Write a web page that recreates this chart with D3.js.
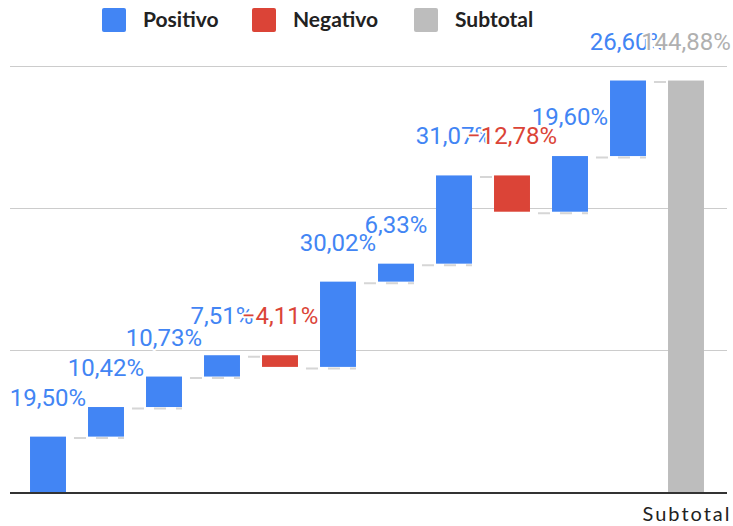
<!DOCTYPE html>
<html>
<head>
<meta charset="utf-8">
<script src="https://cdn.jsdelivr.net/npm/d3@7"></script>
<style>
  html, body { margin: 0; padding: 0; background: #fff; }
  svg { display: block; }
</style>
</head>
<body>
<svg id="chart" width="733" height="526"></svg>
<script>
// ---- data ----
const tickLabels = ["", "", "", "", "", "", "", "", "", "", "", "Subtotal"];
const values = [19.50, 10.42, 10.73, 7.51, -4.11, 30.02, 6.33, 31.07, -12.78, 19.60, 26.60];
const subtotalValue = 144.88;
const yTicks = [0, 50, 100, 150];
const legendLabels = ["Positivo", "Negativo", "Subtotal"];
const colors = { pos: "#4285F4", neg: "#DB4437", sub: "#BDBDBD" };

// ---- build waterfall records ----
const rows = [];
let running = 0;
values.forEach((v, i) => {
  const start = running;
  running += v;
  rows.push({ i, v, start, end: running, type: v >= 0 ? "pos" : "neg" });
});
rows.push({ i: values.length, v: subtotalValue, start: 0, end: subtotalValue, type: "sub" });

const svg = d3.select("#chart");

const x = d3.scaleBand()
  .domain(d3.range(rows.length))
  .range([19, 715])
  .paddingInner(0.38)
  .paddingOuter(0.19);

const y = d3.scaleLinear().domain([0, 150]).range([492, 66]);

// gridlines
svg.append("g")
  .selectAll("line")
  .data(yTicks.filter(t => t !== 0))
  .join("line")
  .attr("x1", 10).attr("x2", 727)
  .attr("y1", d => Math.round(y(d)) + 0.5).attr("y2", d => Math.round(y(d)) + 0.5)
  .attr("stroke", "#cccccc").attr("stroke-width", 1);

// connectors
const conn = svg.append("g");
rows.slice(0, -1).forEach((r, k) => {
  const next = rows[k + 1];
  const yy = y(r.end) + 1.5;
  conn.append("line")
    .attr("x1", x(r.i) + x.bandwidth() + 8)
    .attr("x2", x(next.i) + x.bandwidth())
    .attr("y1", yy).attr("y2", yy)
    .attr("stroke", "#d6d6d6").attr("stroke-width", 2)
    .attr("stroke-dasharray", "12,10");
});

// bars
svg.append("g")
  .selectAll("rect")
  .data(rows)
  .join("rect")
  .attr("x", d => x(d.i))
  .attr("width", x.bandwidth())
  .attr("y", d => y(Math.max(d.start, d.end)))
  .attr("height", d => Math.abs(y(d.start) - y(d.end)))
  .attr("fill", d => colors[d.type]);

// baseline
svg.append("line")
  .attr("x1", 10).attr("x2", 727)
  .attr("y1", y(0) + 1).attr("y2", y(0) + 1)
  .attr("stroke", "#333333").attr("stroke-width", 2);

// x axis label(s)
const xAxis = d3.axisBottom(x).tickSize(0).tickFormat(i => tickLabels[i]);
const gx = svg.append("g").attr("transform", `translate(0, ${y(0)})`).call(xAxis);
gx.select(".domain").remove();
gx.selectAll("text")
  .attr("dy", null)
  .attr("y", 29)
  .attr("dx", "1px")
  .style("font-family", "Lato, sans-serif")
  .style("font-size", "20px")
  .style("letter-spacing", "2px")
  .attr("fill", "#222");

// value labels
const fmt = d3.format(".2f");
svg.append("g")
  .selectAll("text")
  .data(rows)
  .join("text")
  .attr("x", d => x(d.i) + x.bandwidth() / 2)
  .attr("y", d => y(Math.max(d.start, d.end)) - 31)
  .attr("text-anchor", "middle")
  .style("font-family", "Roboto, sans-serif")
  .style("font-size", "24px")
  .attr("fill", d => colors[d.type] === colors.sub ? "#b0b0b0" : colors[d.type])
  .attr("stroke", "#fff").attr("stroke-width", 4)
  .attr("stroke-linejoin", "round")
  .style("paint-order", "stroke")
  .text(d => fmt(d.v).replace(".", ",") + "%");

// legend
const legendX = [102, 252, 414];
const legendColors = [colors.pos, colors.neg, colors.sub];
const lg = svg.append("g");
legendLabels.forEach((lab, k) => {
  lg.append("rect")
    .attr("x", legendX[k]).attr("y", 8)
    .attr("width", 24).attr("height", 24)
    .attr("rx", 2)
    .attr("fill", legendColors[k]);
  lg.append("text")
    .attr("x", legendX[k] + 41).attr("y", 27)
    .style("font-family", "Lato, sans-serif")
    .style("font-weight", "bold")
    .style("font-size", "21px")
    .attr("fill", "#222")
    .text(lab);
});
</script>
</body>
</html>
